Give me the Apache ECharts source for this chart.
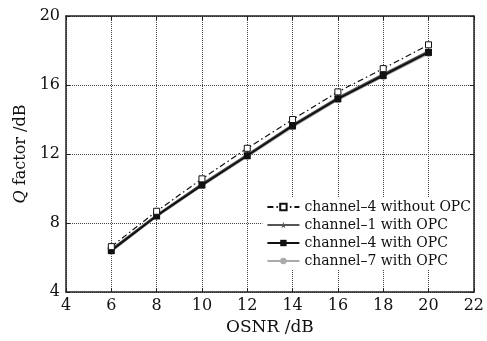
<!DOCTYPE html>
<html>
<head>
<meta charset="utf-8">
<script src="https://cdn.jsdelivr.net/npm/echarts@6/dist/echarts.min.js"></script>
<style>
  html, body { margin: 0; padding: 0; background: #fff; }
  #chart { width: 487px; height: 341px; }
</style>
</head>
<body>
<div id="chart"></div>
<script>
// OSNR points (dB)
var osnr = [6, 8, 10, 12, 14, 16, 18, 20]
var ch4NoOpc = [6.63, 8.68, 10.56, 12.33, 14.0, 15.6, 16.95, 18.33]
var ch1Opc = [6.48, 8.47, 10.28, 11.98, 13.7, 15.28, 16.64, 17.98]
var ch4Opc = [6.4, 8.41, 10.2, 11.9, 13.63, 15.2, 16.55, 17.89]
var ch7Opc = [6.34, 8.36, 10.14, 11.84, 13.55, 15.12, 16.47, 17.8]
var xTicks = { min: 4, max: 22, step: 2 }
var yTicks = { min: 4, max: 20, step: 4 }

var serif = '"DejaVu Serif", "Liberation Serif", serif'
var starPath = 'path://M50,0 L61,35 L98,35 L68,57 L79,91 L50,70 L21,91 L32,57 L2,35 L39,35 Z'

function pairs(ys) {
  return osnr.map(function (x, i) { return [x, ys[i]] })
}

var myChart = echarts.init(document.getElementById('chart'))

var axisLineStyle = { color: '#222', width: 1.5 }

var option = {
  animation: false,
  backgroundColor: '#fff',
  textStyle: { fontFamily: serif },
  grid: { left: 66, right: 10, top: 16, bottom: 47 },
  legend: {
    orient: 'vertical',
    right: 14,
    top: 198,
    itemWidth: 32,
    itemHeight: 8,
    itemGap: 4,
    backgroundColor: '#fff',
    padding: [2, 2, 2, 4],
    textStyle: { fontFamily: serif, fontSize: 14, color: '#111' },
    data: ['channel\u20134 without OPC', 'channel\u20131 with OPC', 'channel\u20134 with OPC', 'channel\u20137 with OPC']
  },
  xAxis: [
    {
      type: 'value',
      min: xTicks.min, max: xTicks.max, interval: xTicks.step,
      name: 'OSNR /dB',
      nameLocation: 'middle',
      nameGap: 27,
      nameTextStyle: { fontFamily: serif, fontSize: 17, color: '#111' },
      axisLine: { show: true, lineStyle: axisLineStyle },
      axisTick: { show: true, inside: true, length: 4, lineStyle: { color: '#222' } },
      axisLabel: { fontFamily: serif, fontSize: 16, color: '#111', margin: 6 },
      splitLine: { show: true, lineStyle: { type: 'dotted', color: '#444', width: 1 } }
    },
    {
      type: 'value', position: 'top',
      min: xTicks.min, max: xTicks.max, interval: xTicks.step,
      axisLine: { show: true, lineStyle: axisLineStyle },
      axisTick: { show: true, inside: true, length: 4, lineStyle: { color: '#222' } },
      axisLabel: { show: false },
      splitLine: { show: false }
    }
  ],
  yAxis: [
    {
      type: 'value',
      min: yTicks.min, max: yTicks.max, interval: yTicks.step,
      name: '{i|Q} factor /dB',
      nameLocation: 'middle',
      nameGap: 34,
      nameTextStyle: {
        fontFamily: serif, fontSize: 16, color: '#111',
        rich: { i: { fontFamily: serif, fontSize: 16, fontStyle: 'italic', color: '#111' } }
      },
      axisLine: { show: true, lineStyle: axisLineStyle },
      axisTick: { show: true, inside: true, length: 4, lineStyle: { color: '#222' } },
      axisLabel: { fontFamily: serif, fontSize: 16, color: '#111', margin: 6 },
      splitLine: { show: true, lineStyle: { type: 'dotted', color: '#444', width: 1 } }
    },
    {
      type: 'value', position: 'right',
      min: yTicks.min, max: yTicks.max, interval: yTicks.step,
      axisLine: { show: true, lineStyle: axisLineStyle },
      axisTick: { show: true, inside: true, length: 4, lineStyle: { color: '#222' } },
      axisLabel: { show: false },
      splitLine: { show: false }
    }
  ],
  series: [
    {
      name: 'channel\u20134 without OPC',
      type: 'line',
      data: pairs(ch4NoOpc),
      symbol: 'rect',
      symbolSize: 6,
      lineStyle: { color: '#111', width: 1.2, type: [6, 3, 1.5, 3] },
      itemStyle: { color: '#fff', borderColor: '#111', borderWidth: 1 },
      z: 5
    },
    {
      name: 'channel\u20131 with OPC',
      type: 'line',
      data: pairs(ch1Opc),
      symbol: starPath,
      symbolSize: 8,
      lineStyle: { color: '#555', width: 1.5 },
      itemStyle: { color: '#555' },
      z: 3
    },
    {
      name: 'channel\u20134 with OPC',
      type: 'line',
      data: pairs(ch4Opc),
      symbol: 'rect',
      symbolSize: 7,
      lineStyle: { color: '#111', width: 2 },
      itemStyle: { color: '#111' },
      z: 4
    },
    {
      name: 'channel\u20137 with OPC',
      type: 'line',
      data: pairs(ch7Opc),
      symbol: 'circle',
      symbolSize: 6,
      lineStyle: { color: '#aaa', width: 1.5 },
      itemStyle: { color: '#aaa' },
      z: 2
    }
  ]
}

myChart.setOption(option)
</script>
</body>
</html>
